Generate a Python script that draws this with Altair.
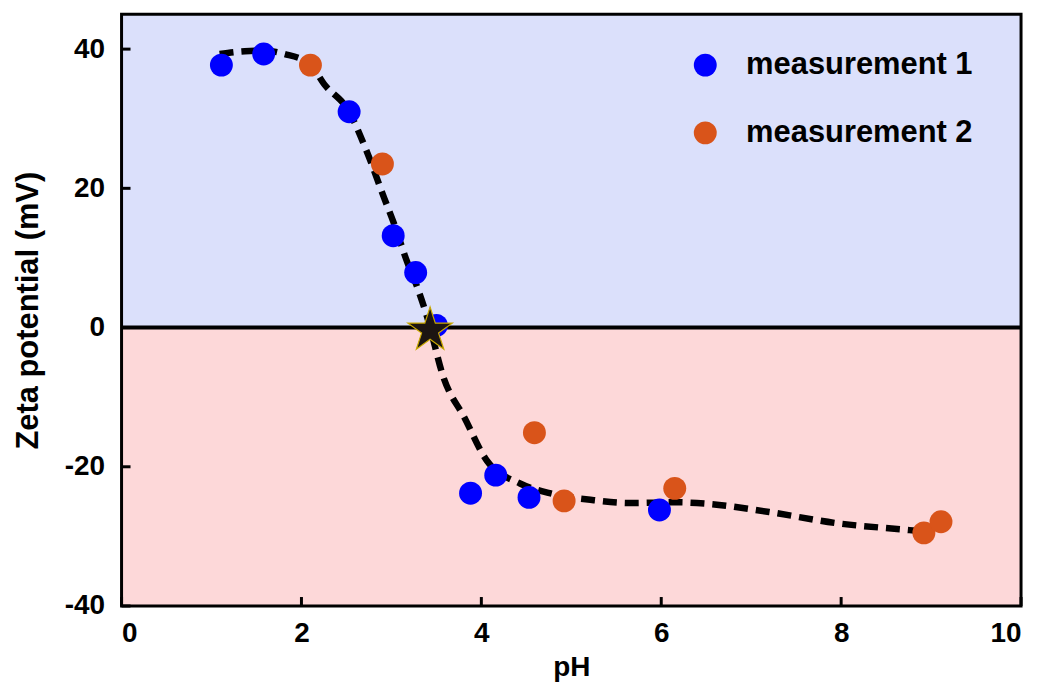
import altair as alt
import pandas as pd

# ---- data ----
m1_ph = [1.11, 1.58, 2.53, 3.02, 3.27, 3.50, 3.88, 4.16, 4.53, 5.98]
m1_zeta = [37.7, 39.3, 31.0, 13.2, 7.9, 0.3, -23.8, -21.2, -24.4, -26.2]

m2_ph = [2.10, 2.90, 4.59, 4.92, 6.15, 8.92, 9.11]
m2_zeta = [37.7, 23.5, -15.1, -24.9, -23.1, -29.5, -27.9]

fit_ph = [1.09, 1.37, 1.59, 1.81, 2.10, 2.25, 2.53, 2.72, 2.92, 3.03, 3.17, 3.29,
          3.40, 3.58, 3.81, 4.06, 4.43, 4.76, 5.25, 5.65, 6.17, 6.50, 7.20, 7.95,
          8.76, 8.92]
fit_zeta = [39.3, 39.7, 39.8, 39.3, 37.8, 35.0, 31.0, 25.5, 18.6, 14.9, 9.6, 5.7,
            1.4, -7.2, -12.9, -19.1, -22.4, -23.8, -24.8, -25.2, -25.1, -25.3, -26.5,
            -28.1, -29.1, -29.3]

iep_ph = [3.43]
iep_zeta = [-0.4]

series_names = ["measurement 1", "measurement 2"]
series_colors = ["#0000ff", "#d9541a"]

x_domain = [0, 10]
y_domain = [-40, 45]
x_ticks = [0, 2, 4, 6, 8, 10]
y_ticks = [-40, -20, 0, 20, 40]

FONT = "Liberation Sans"
W, H = 903, 594
TICK = 9

STAR_PATH = ("M0,-1L0.225,-0.309L0.951,-0.309L0.363,0.118L0.588,0.809L0,0.382"
             "L-0.588,0.809L-0.363,0.118L-0.951,-0.309L-0.225,-0.309Z")

xs = alt.Scale(domain=x_domain, nice=False, zero=False)
ys = alt.Scale(domain=y_domain, nice=False, zero=False)

label_expr = "datum.value < 0 ? '-' + abs(datum.value) : '' + datum.value"
x_axis = alt.Axis(values=x_ticks, title="pH", labelExpr=label_expr)
y_axis = alt.Axis(values=y_ticks, title="Zeta potential (mV)", labelExpr=label_expr)

# background bands
pos_df = pd.DataFrame({"x0": [x_domain[0]], "x1": [x_domain[1]], "y0": [0], "y1": [y_domain[1]]})
neg_df = pd.DataFrame({"x0": [x_domain[0]], "x1": [x_domain[1]], "y0": [y_domain[0]], "y1": [0]})

pos_band = alt.Chart(pos_df).mark_rect(color="#dbe0fb").encode(
    x=alt.X("x0:Q", scale=xs, axis=x_axis), x2="x1",
    y=alt.Y("y0:Q", scale=ys, axis=y_axis), y2="y1")
neg_band = alt.Chart(neg_df).mark_rect(color="#fdd8d9").encode(
    x=alt.X("x0:Q", scale=xs), x2="x1",
    y=alt.Y("y0:Q", scale=ys), y2="y1")

zero_line = alt.Chart(pd.DataFrame({"y": [0]})).mark_rule(color="black", strokeWidth=4).encode(
    y=alt.Y("y:Q", scale=ys))

# inward tick marks at the axis values
xtick_marks = alt.Chart(pd.DataFrame({"t": x_ticks})).mark_rule(color="black", strokeWidth=3).encode(
    x=alt.X("t:Q", scale=xs), y=alt.value(H), y2=alt.value(H - TICK))
ytick_marks = alt.Chart(pd.DataFrame({"t": y_ticks})).mark_rule(color="black", strokeWidth=3).encode(
    y=alt.Y("t:Q", scale=ys), x=alt.value(0), x2=alt.value(TICK))

fit_df = pd.DataFrame({"ph": fit_ph, "zeta": fit_zeta})
fit_line = alt.Chart(fit_df).mark_line(
    color="black", strokeWidth=6.5, strokeDash=[14, 8], interpolate="monotone", strokeCap="butt"
).encode(x=alt.X("ph:Q", scale=xs), y=alt.Y("zeta:Q", scale=ys))

m1_df = pd.DataFrame({"ph": m1_ph, "zeta": m1_zeta})
m2_df = pd.DataFrame({"ph": m2_ph, "zeta": m2_zeta})
pts1 = alt.Chart(m1_df).mark_circle(size=530, opacity=1, color=series_colors[0]).encode(
    x=alt.X("ph:Q", scale=xs), y=alt.Y("zeta:Q", scale=ys))
pts2 = alt.Chart(m2_df).mark_circle(size=530, opacity=1, color=series_colors[1]).encode(
    x=alt.X("ph:Q", scale=xs), y=alt.Y("zeta:Q", scale=ys))

# manual legend (pixel placement inside the plot area)
LEG_X, LEG_Y0, LEG_DY, LEG_TX = 586, 51, 68, 627
legend_layers = []
for i, (name, col) in enumerate(zip(series_names, series_colors)):
    d = pd.DataFrame({"label": [name]})
    legend_layers.append(alt.Chart(d).mark_circle(size=530, opacity=1, color=col).encode(
        x=alt.value(LEG_X), y=alt.value(LEG_Y0 + i * LEG_DY)))
    legend_layers.append(alt.Chart(d).mark_text(
        align="left", baseline="middle", font=FONT, fontSize=31, fontWeight="bold", color="black"
    ).encode(x=alt.value(LEG_TX), y=alt.value(LEG_Y0 + i * LEG_DY), text="label:N"))

star = alt.Chart(pd.DataFrame({"ph": iep_ph, "zeta": iep_zeta})).mark_point(
    shape=STAR_PATH, filled=True, fill="#1c1512", stroke="#c9a800", strokeWidth=1.2,
    size=2200, opacity=1
).encode(x=alt.X("ph:Q", scale=xs), y=alt.Y("zeta:Q", scale=ys))

frame = alt.Chart(pd.DataFrame({"x0": [x_domain[0]], "x1": [x_domain[1]],
                                "y0": [y_domain[0]], "y1": [y_domain[1]]})).mark_rect(
    fillOpacity=0, stroke="black", strokeWidth=3
).encode(x=alt.X("x0:Q", scale=xs), x2="x1", y=alt.Y("y0:Q", scale=ys), y2="y1")

chart = alt.layer(pos_band, neg_band, zero_line, xtick_marks, ytick_marks, fit_line,
                  pts1, pts2, star, frame, *legend_layers).properties(
    width=W, height=H,
    autosize=alt.AutoSizeParams(type="none"),
    padding={"left": 114, "top": 5, "right": 10, "bottom": 82},
).configure_axis(
    domain=False, grid=False, ticks=False,
    labelFont=FONT, labelFontSize=28, labelFontWeight="bold", labelColor="black",
    titleFont=FONT, titleFontWeight="bold", titleColor="black",
).configure_axisX(
    labelPadding=14, titlePadding=6, titleFontSize=28,
).configure_axisY(
    labelPadding=17, titlePadding=20, titleFontSize=31,
).configure_view(strokeWidth=0)

chart.save("out.html", embed_options={"renderer": "svg", "actions": False})
